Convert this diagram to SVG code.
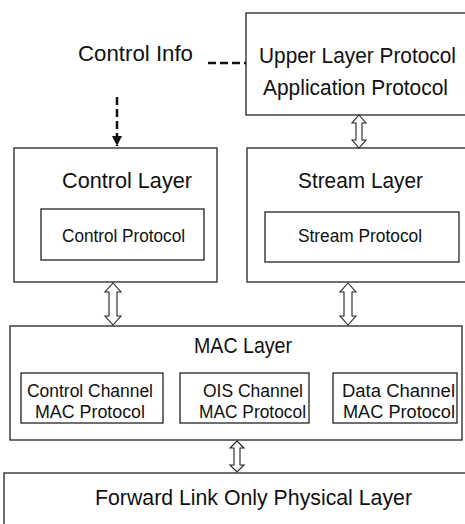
<svg xmlns="http://www.w3.org/2000/svg" width="465" height="524" viewBox="0 0 465 524">
<style>
.box{fill:#fff;stroke:#222;stroke-width:1.3}
.t{font-family:"Liberation Sans",Arial,sans-serif;fill:#111}
.big{font-size:22px}
.sm{font-size:17.5px}
.dbl{fill:#fff;stroke:#222;stroke-width:1.1;stroke-linejoin:miter}
.dash{fill:none;stroke:#111;stroke-width:2.5;stroke-dasharray:8 4}
</style>
<defs>
<marker id="ah" viewBox="0 0 10 10" refX="10" refY="5" markerWidth="4" markerHeight="5" orient="auto" markerUnits="strokeWidth">
<path d="M0,0 L10,5 L0,10 z" fill="#111"/>
</marker>
</defs>
<rect width="465" height="524" fill="#fff"/>

<g id="control-info">
<text class="t big" x="78" y="61" textLength="115" lengthAdjust="spacingAndGlyphs">Control Info</text>
</g>

<g id="upper-layer">
<rect class="box" x="246" y="13" width="222" height="102"/>
<text class="t big" x="259" y="63" textLength="197" lengthAdjust="spacingAndGlyphs">Upper Layer Protocol</text>
<text class="t big" x="263" y="95" textLength="185" lengthAdjust="spacingAndGlyphs">Application Protocol</text>
</g>

<g id="control-layer">
<rect class="box" x="14" y="148" width="203" height="134"/>
<text class="t big" x="62" y="188" textLength="130" lengthAdjust="spacingAndGlyphs">Control Layer</text>
<rect class="box" x="41" y="209" width="163" height="51"/>
<text class="t sm" x="62" y="242" textLength="123" lengthAdjust="spacingAndGlyphs">Control Protocol</text>
</g>

<g id="stream-layer">
<rect class="box" x="247" y="148" width="221" height="134"/>
<text class="t big" x="298" y="188" textLength="125" lengthAdjust="spacingAndGlyphs">Stream Layer</text>
<rect class="box" x="265" y="212" width="194" height="50"/>
<text class="t sm" x="298" y="242" textLength="124" lengthAdjust="spacingAndGlyphs">Stream Protocol</text>
</g>

<g id="mac-layer">
<rect class="box" x="10" y="326" width="452" height="114"/>
<text class="t big" x="194" y="353" textLength="98" lengthAdjust="spacingAndGlyphs">MAC Layer</text>
</g>

<g id="control-channel">
<rect class="box" x="21" y="373" width="142" height="50"/>
<text class="t sm" x="27" y="397" textLength="126" lengthAdjust="spacingAndGlyphs">Control Channel</text>
<text class="t sm" x="35" y="418" textLength="110" lengthAdjust="spacingAndGlyphs">MAC Protocol</text>
</g>

<g id="ois-channel">
<rect class="box" x="180" y="373" width="129" height="50"/>
<text class="t sm" x="203" y="397" textLength="100" lengthAdjust="spacingAndGlyphs">OIS Channel</text>
<text class="t sm" x="199" y="418" textLength="107" lengthAdjust="spacingAndGlyphs">MAC Protocol</text>
</g>

<g id="data-channel">
<rect class="box" x="333" y="373" width="124" height="50"/>
<text class="t sm" x="342" y="397" textLength="113" lengthAdjust="spacingAndGlyphs">Data Channel</text>
<text class="t sm" x="343" y="418" textLength="112" lengthAdjust="spacingAndGlyphs">MAC Protocol</text>
</g>

<g id="physical-layer">
<rect class="box" x="4" y="473" width="470" height="70"/>
<text class="t big" x="95" y="505" textLength="317" lengthAdjust="spacingAndGlyphs">Forward Link Only Physical Layer</text>
</g>

<g id="connectors">
<path class="dash" d="M208,63 H246"/>
<path class="dash" d="M117,97 V146" marker-end="url(#ah)"/>
<path class="dbl" d="M359,115 L366,123 L362,123 L362,140 L366,140 L359,148 L352,140 L356,140 L356,123 L352,123 Z"/>
<path class="dbl" d="M113,283 L121,292 L117,292 L117,316 L121,316 L113,325 L105,316 L109,316 L109,292 L105,292 Z"/>
<path class="dbl" d="M348,283 L356,292 L352,292 L352,316 L356,316 L348,325 L340,316 L344,316 L344,292 L340,292 Z"/>
<path class="dbl" d="M237,441 L244,448 L240,448 L240,465 L244,465 L237,472 L230,465 L234,465 L234,448 L230,448 Z"/>
</g>
</svg>
